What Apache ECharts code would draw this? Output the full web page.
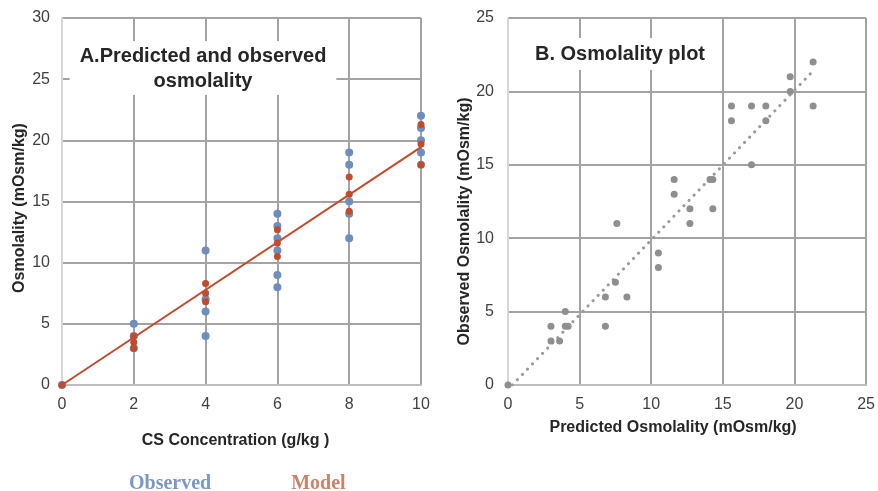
<!DOCTYPE html>
<html>
<head>
<meta charset="utf-8">
<script src="https://cdn.jsdelivr.net/npm/echarts@6/dist/echarts.min.js"></script>
<style>
  html, body { margin: 0; padding: 0; background: #ffffff; }
  #chart { width: 878px; height: 491px; }
</style>
</head>
<body>
<div id="chart"></div>
<script>
// Panel A: CS concentration (g/kg) vs osmolality (mOsm/kg)
const concentrations = [0, 2, 4, 6, 8, 10];
const observedByConc = [
  [0],
  [5, 4, 3],
  [11, 7, 6, 4],
  [14, 13, 12, 11, 9, 8],
  [19, 18, 15, 14, 12],
  [22, 21, 20, 19, 18]
];
const modelByConc = [
  [0],
  [4.0, 3.5, 3.0],
  [8.3, 7.5, 6.8],
  [12.7, 11.6, 10.5],
  [17.0, 15.6, 14.2],
  [21.3, 19.7, 18.0]
];
const modelLine = [[0, 0], [10, 19.45]];

// Panel B: predicted vs observed osmolality pairs
const predicted = [0, 3.0, 3.0, 3.6, 4.0, 4.0, 4.2, 6.8, 6.8, 7.5, 7.6, 8.3,
  10.5, 10.5, 11.6, 11.6, 12.7, 12.7, 14.1, 14.3, 14.3,
  15.6, 15.6, 17.0, 17.0, 18.0, 18.0, 19.7, 19.7, 21.3, 21.3];
const observed = [0, 4, 3, 3, 5, 4, 4, 6, 4, 7, 11, 6,
  9, 8, 14, 13, 12, 11, 14, 14, 12,
  19, 18, 19, 15, 19, 18, 21, 20, 22, 19];
const trendLine = [[0.3, 0], [21.3, 21.4]];

const colBlue = '#6d8ebf';
const colRed = '#c24b2c';
const colGray = '#8f8f8f';
const gridColor = '#a3a3a3';
const sans = '"Liberation Sans", Arial, sans-serif';

function pairs(xs, groups) {
  const out = [];
  groups.forEach((g, i) => g.forEach(v => out.push([xs[i], v])));
  return out;
}

function valueAxis(opts) {
  return Object.assign({
    type: 'value',
    axisTick: { show: false },
    axisLabel: { color: '#404040', fontSize: 16, fontFamily: sans, margin: 12 },
    splitLine: { show: true, showMinLine: false, lineStyle: { color: gridColor, width: 2 } },
    nameLocation: 'middle',
    nameTextStyle: { color: '#262626', fontSize: 16, fontWeight: 'bold', fontFamily: sans }
  }, opts);
}

const chart = echarts.init(document.getElementById('chart'), null, { renderer: 'canvas' });

chart.setOption({
  animation: false,
  backgroundColor: '#ffffff',
  title: [
    {
      text: 'A.Predicted and observed\nosmolality',
      left: 193, top: 41, textAlign: 'center',
      backgroundColor: '#ffffff',
      padding: [3, 10, 1, 10],
      textStyle: { color: '#262626', fontSize: 20, fontWeight: 'bold', fontFamily: sans, lineHeight: 25 }
    },
    {
      text: 'B. Osmolality plot',
      left: 610, top: 38, textAlign: 'center',
      backgroundColor: '#ffffff',
      padding: [6, 10, 6, 10],
      textStyle: { color: '#262626', fontSize: 20, fontWeight: 'bold', fontFamily: sans }
    }
  ],
  legend: {
    left: 119, top: 469,
    itemWidth: 0, itemHeight: 0, itemGap: 75,
    icon: 'none',
    selectedMode: false,
    textStyle: { fontSize: 20, fontWeight: 'bold', fontFamily: '"Liberation Serif", "Times New Roman", serif' },
    data: [
      { name: 'Observed', textStyle: { color: '#7b97c6' } },
      { name: 'Model', textStyle: { color: '#cb8369' } }
    ]
  },
  grid: [
    { left: 62, top: 18, width: 359, height: 367 },
    { left: 508, top: 18, width: 360, height: 367 }
  ],
  xAxis: [
    valueAxis({
      gridIndex: 0, min: 0, max: 10, interval: 2,
      name: 'CS Concentration (g/kg )', nameGap: 48,
      nameTextStyle: { color: '#262626', fontSize: 16, fontWeight: 'bold', fontFamily: sans, padding: [0, 12, 0, 0] },
      axisLine: { show: true, lineStyle: { color: '#bdbdbd', width: 2 } }
    }),
    valueAxis({
      gridIndex: 1, min: 0, max: 25, interval: 5,
      name: 'Predicted Osmolality (mOsm/kg)', nameGap: 35,
      nameTextStyle: { color: '#262626', fontSize: 16, fontWeight: 'bold', fontFamily: sans, padding: [0, 28, 0, 0] },
      axisLine: { show: true, lineStyle: { color: '#bdbdbd', width: 2 } }
    })
  ],
  yAxis: [
    valueAxis({
      gridIndex: 0, min: 0, max: 30, interval: 5,
      name: 'Osmolality (mOsm/kg)', nameGap: 34,
      nameTextStyle: { color: '#262626', fontSize: 16, fontWeight: 'bold', fontFamily: sans, padding: [0, 13, 0, 0] },
      axisLine: { show: true, lineStyle: { color: '#d6d6d6', width: 2 } }
    }),
    valueAxis({
      gridIndex: 1, min: 0, max: 25, interval: 5,
      name: 'Observed Osmolality (mOsm/kg)', nameGap: 33,
      axisLabel: { color: '#404040', fontSize: 16, fontFamily: sans, margin: 14 },
      nameTextStyle: { color: '#262626', fontSize: 16, fontWeight: 'bold', fontFamily: sans, padding: [0, 40, 0, 0] },
      axisLine: { show: true, lineStyle: { color: '#d6d6d6', width: 2 } }
    })
  ],
  series: [
    {
      name: 'Observed', type: 'scatter', xAxisIndex: 0, yAxisIndex: 0,
      symbolSize: 8, itemStyle: { color: colBlue, opacity: 1 },
      data: pairs(concentrations, observedByConc), z: 2
    },
    {
      name: 'Model', type: 'line', xAxisIndex: 0, yAxisIndex: 0,
      showSymbol: false, symbol: 'none',
      lineStyle: { color: colRed, width: 2 },
      itemStyle: { color: colRed },
      data: modelLine, z: 3
    },
    {
      name: 'Model', type: 'scatter', xAxisIndex: 0, yAxisIndex: 0,
      symbolSize: 7, itemStyle: { color: colRed, opacity: 1 },
      data: pairs(concentrations, modelByConc), z: 4
    },
    {
      name: 'Trend', type: 'line', xAxisIndex: 1, yAxisIndex: 1,
      showSymbol: false, symbol: 'none',
      lineStyle: { color: '#9a9a9a', width: 3, type: [0.1, 7.2], cap: 'round' },
      data: trendLine, z: 2
    },
    {
      name: 'Pairs', type: 'scatter', xAxisIndex: 1, yAxisIndex: 1,
      symbolSize: 7, itemStyle: { color: colGray, opacity: 1 },
      data: predicted.map((p, i) => [p, observed[i]]), z: 3
    }
  ]
});
</script>
</body>
</html>
